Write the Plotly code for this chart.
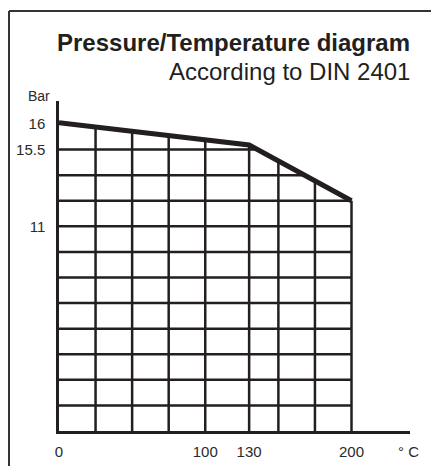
import numpy as np
import plotly.graph_objects as go

# --- data (schematic diagram: pressure drawn on grid-unit scale) ---
temperature = [0, 130, 200]
pressure_level = [12.05, 11.18, 9.0]          # position of curve in grid units
grid_temps = [25, 50, 75, 100, 130, 150, 175, 200]
grid_levels = [1, 2, 3, 4, 5, 6, 7, 8, 9, 10, 11]
y_tick_pos = [12, 11, 8]
y_tick_labels = ["16", "15.5", "11"]
x_tick_vals = [0, 100, 130, 200]
x_tick_labels = ["0", "100", "130", "200"]

INK = "#231f20"
TXT = "#2a2a2a"
FONT = "Liberation Sans, Arial, sans-serif"

fig = go.Figure()

# grid clipped below the pressure curve
gx, gy = [], []
for t in grid_temps:
    top = float(np.interp(t, temperature, pressure_level))
    gx += [t, t, None]
    gy += [0, top, None]
for lv in grid_levels:
    if lv <= pressure_level[-1]:
        xe = temperature[-1]
    else:
        xe = float(np.interp(lv, pressure_level[::-1], temperature[::-1]))
    gx += [0, xe, None]
    gy += [lv, lv, None]
fig.add_trace(go.Scatter(x=gx, y=gy, mode="lines",
                         line=dict(color=INK, width=2.5),
                         hoverinfo="skip", showlegend=False))

fig.add_trace(go.Scatter(x=temperature, y=pressure_level, mode="lines",
                         line=dict(color=INK, width=5),
                         showlegend=False))

W, H = 431, 466
PL, PR, PT, PB = 59, 410, 101, 431   # plot area in page pixels
L, T = PL, PT
R, B = W - PR, H - PB
pw, ph = PR - PL, PB - PT


def px2paper_x(px):
    return (px - PL) / pw


def px2paper_y(py):
    return (PB - py) / ph


fig.update_layout(
    width=W, height=H,
    margin=dict(l=L, r=R, t=T, b=B, pad=0, autoexpand=False),
    paper_bgcolor="white", plot_bgcolor="white",
    font=dict(family=FONT, color=TXT, size=15),
    xaxis=dict(range=[0, 240], showgrid=False, zeroline=False, automargin=False,
               showline=True, linecolor=INK, linewidth=2.5,
               tickmode="array", tickvals=x_tick_vals, ticktext=x_tick_labels,
               ticks="", ticklabelstandoff=5,
               tickfont=dict(size=15, color=TXT)),
    yaxis=dict(range=[0, 12.9], showgrid=False, zeroline=False, automargin=False,
               showline=True, linecolor=INK, linewidth=2.5,
               tickmode="array", tickvals=y_tick_pos, ticktext=y_tick_labels,
               ticks="", ticklabelstandoff=8,
               tickfont=dict(size=15, color=TXT)),
    shapes=[
        dict(type="line", xref="paper", yref="paper",
             x0=px2paper_x(9), x1=px2paper_x(440),
             y0=px2paper_y(11), y1=px2paper_y(11),
             line=dict(color="#333", width=2)),
        dict(type="line", xref="paper", yref="paper",
             x0=px2paper_x(9), x1=px2paper_x(9),
             y0=px2paper_y(11), y1=px2paper_y(480),
             line=dict(color="#333", width=2)),
    ],
    annotations=[
        dict(text="<b>Pressure/Temperature diagram</b>", xref="paper", yref="paper",
             x=px2paper_x(412), y=px2paper_y(42), xanchor="right", yanchor="middle",
             showarrow=False, font=dict(size=24, color=INK)),
        dict(text="According to DIN 2401", xref="paper", yref="paper",
             x=px2paper_x(412), y=px2paper_y(71), xanchor="right", yanchor="middle",
             showarrow=False, font=dict(size=24, color=INK)),
        dict(text="Bar", xref="paper", yref="paper",
             x=px2paper_x(52), y=px2paper_y(96), xanchor="right", yanchor="middle",
             showarrow=False, font=dict(size=14, color=TXT)),
        dict(text="° C", xref="paper", yref="paper",
             x=px2paper_x(408), y=px2paper_y(451), xanchor="center", yanchor="middle",
             showarrow=False, font=dict(size=15, color=TXT)),
    ],
)

fig.write_html("out.html", config={"displayModeBar": False},
               post_script="document.body.style.margin='0';")
